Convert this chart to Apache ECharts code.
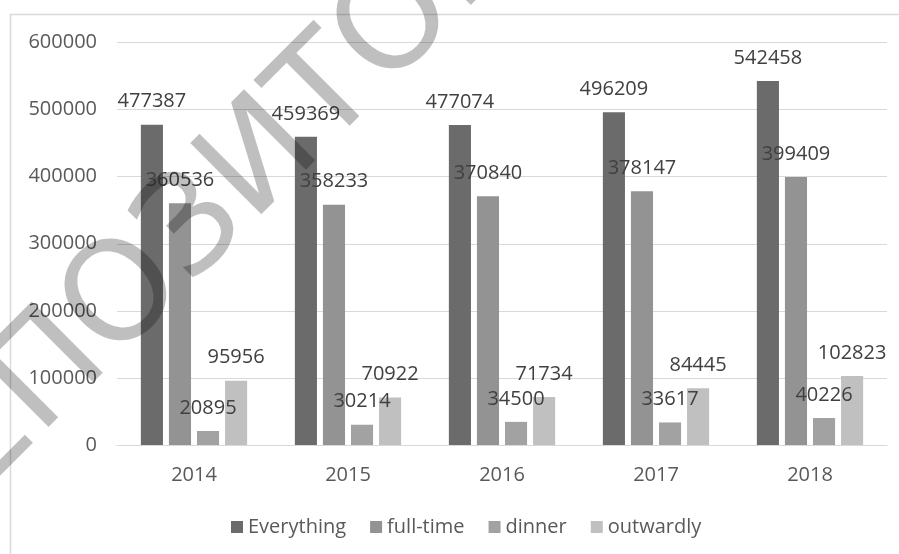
<!DOCTYPE html>
<html>
<head>
<meta charset="utf-8">
<script src="https://cdn.jsdelivr.net/npm/echarts@6/dist/echarts.min.js"></script>
<style>
html,body{margin:0;padding:0;background:#fff;}
#chart{width:899px;height:554px;}
</style>
</head>
<body>
<div id="chart"></div>
<script>
const years = ['2014', '2015', '2016', '2017', '2018'];
const seriesNames = ['Everything', 'full-time', 'dinner', 'outwardly'];
const everything = [477387, 459369, 477074, 496209, 542458];
const fullTime = [360536, 358233, 370840, 378147, 399409];
const dinner = [20895, 30214, 34500, 33617, 40226];
const outwardly = [95956, 70922, 71734, 84445, 102823];
const yTicks = [0, 100000, 200000, 300000, 400000, 500000, 600000];
const colors = ['#6b6b6b', '#939393', '#a2a2a2', '#c0c0c0'];
const watermark = 'РЕПОЗИТОРИЙ';

const FONT = '"Open Sans", "DejaVu Sans", sans-serif';
const chart = echarts.init(document.getElementById('chart'), null, {renderer: 'canvas'});

const dataSets = [everything, fullTime, dinner, outwardly];
const series = seriesNames.map((name, i) => ({
  name: name,
  type: 'bar',
  data: dataSets[i],
  barGap: '27%',
  barCategoryGap: '31%',
  itemStyle: {color: colors[i]},
  label: {
    show: true,
    position: 'top',
    distance: 13,
    color: '#404040',
    fontFamily: FONT,
    fontSize: 20,
    lineHeight: 20
  },
  emphasis: {disabled: true}
}));

chart.setOption({
  animation: false,
  backgroundColor: '#ffffff',
  color: colors,
  grid: {left: 117, right: 12, top: 42.5, bottom: 109, containLabel: false},
  legend: {
    data: seriesNames,
    left: 231,
    top: 517,
    padding: 0,
    icon: 'rect',
    itemWidth: 12,
    itemHeight: 12,
    itemGap: 24,
    textStyle: {color: '#595959', fontFamily: FONT, fontSize: 20, lineHeight: 20}
  },
  xAxis: {
    type: 'category',
    data: years,
    axisLine: {show: true, lineStyle: {color: '#d9d9d9', width: 1}},
    axisTick: {show: false},
    axisLabel: {color: '#595959', fontFamily: FONT, fontSize: 20, lineHeight: 20, margin: 20}
  },
  yAxis: {
    type: 'value',
    min: yTicks[0],
    max: yTicks[yTicks.length - 1],
    interval: yTicks[1] - yTicks[0],
    axisLine: {show: false},
    axisTick: {show: false},
    splitLine: {show: true, lineStyle: {color: '#d9d9d9', width: 1}},
    axisLabel: {color: '#595959', fontFamily: FONT, fontSize: 20, margin: 20, formatter: (v) => String(v)}
  },
  series: series,
  graphic: [
    {
      type: 'rect',
      z: -1,
      silent: true,
      shape: {x: 10.5, y: 14.5, width: 1000, height: 1000},
      style: {fill: 'none', stroke: '#d9d9d9', lineWidth: 1.5}
    },
    {
      type: 'text',
      z: 100,
      silent: true,
      x: 267,
      y: 158,
      rotation: Math.PI / 4,
      style: {
        text: watermark,
        fill: 'rgba(0,0,0,0.25)',
        font: '138px "DejaVu Sans", sans-serif',
        textAlign: 'center',
        textVerticalAlign: 'middle'
      }
    }
  ]
});
</script>
</body>
</html>
